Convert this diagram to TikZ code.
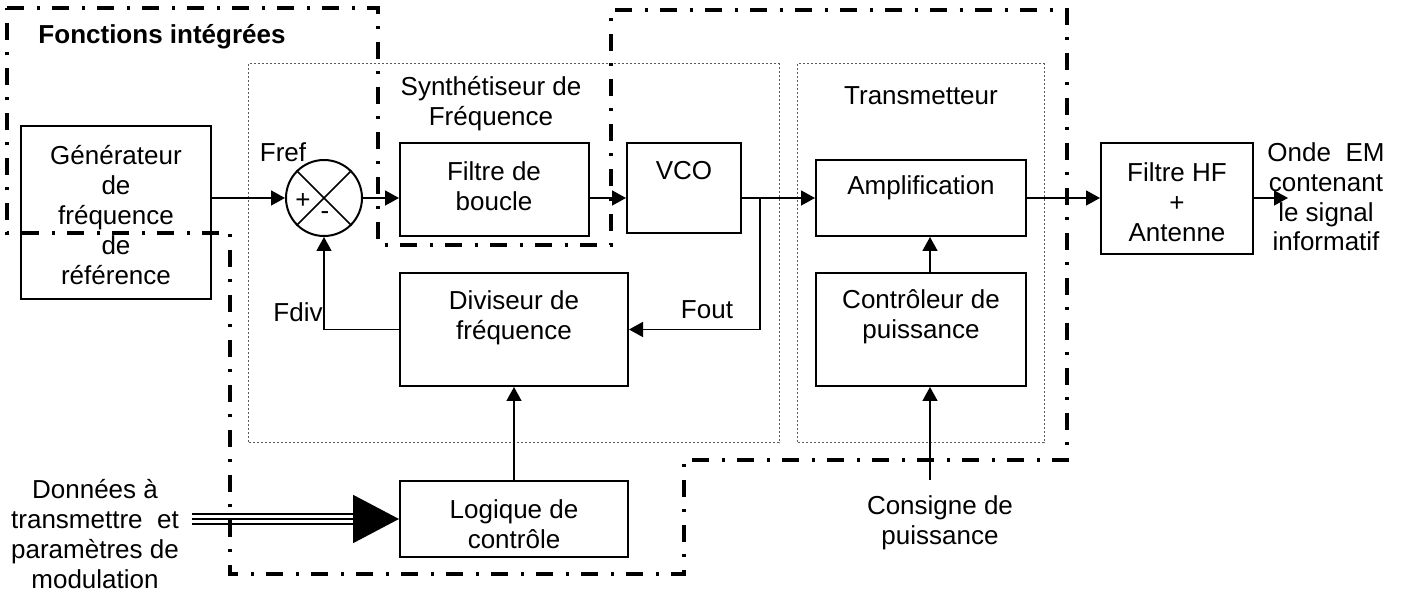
\documentclass[tikz,border=0pt]{standalone}
\usepackage{fontspec}
\setmainfont{Liberation Sans}
\usetikzlibrary{arrows.meta}
\begin{document}
\begin{tikzpicture}[x=0.5pt,y=-0.5pt,
        every node/.style={font=\fontsize{13}{14.9}\selectfont},
        box/.style={draw,line width=1pt,inner sep=0pt},
        txt/.style={align=center,inner sep=0pt},
        wire/.style={line width=0.8pt},
        arr/.style={wire,-{Triangle[length=7pt,width=7.5pt]}},
        frame/.style={line width=0.5pt,black!65,dash pattern=on 1pt off 1pt},
        border/.style={line width=1.7pt,dash pattern=on 8.5pt off 6.25pt on 1.5pt off 6.25pt}]
        \useasboundingbox (0,0) rectangle (1405,592);
        \draw[frame] (248,64) rectangle (779,443);
        \draw[frame] (797,64) rectangle (1044,443);
        \node[box,minimum width=95pt,minimum height=86.5pt] (gen) at (116,212.5) {};
        \node[box,circle,minimum size=38pt] (mix) at (324,198) {};
        \node[box,minimum width=94.5pt,minimum height=46.5pt] (filt) at (494.5,189.5) {};
        \node[box,minimum width=57pt,minimum height=45pt] (vco) at (684,188) {};
        \node[box,minimum width=114pt,minimum height=56.5pt] (div) at (514,329.5) {};
        \node[box,minimum width=114pt,minimum height=38pt] (logic) at (514,519) {};
        \node[box,minimum width=105pt,minimum height=38pt] (ampl) at (921,198) {};
        \node[box,minimum width=105pt,minimum height=56.5pt] (ctrl) at (921,329.5) {};
        \node[box,minimum width=76pt,minimum height=55.5pt] (hf) at (1177,198.5) {};
        \draw[line width=0.8pt] (mix.north west) -- (mix.south east) (mix.north east) -- (mix.south west);
        \node[txt,font=\fontsize{13}{14.9}\selectfont\bfseries] (tfi) at (162,37) {Fonctions intégrées};
        \node[txt] (tgen) at (116,215) {Générateur\\de\\fréquence\\de\\référence};
        \node[txt] (tsyn) at (491,104) {Synthétiseur de\\Fréquence};
        \node[txt] (tfilt) at (494,186) {Filtre de\\boucle};
        \node[txt] (tvco) at (684,171) {VCO};
        \node[txt] (tdiv) at (514,318) {Diviseur de\\fréquence};
        \node[txt] (tlogic) at (514,524) {Logique de\\contrôle};
        \node[txt] (ttr) at (921,96) {Transmetteur};
        \node[txt] (tampl) at (921,188) {Amplification};
        \node[txt] (tctrl) at (921,317) {Contrôleur de\\puissance};
        \node[txt] (thf) at (1177,202) {Filtre HF\\+\\Antenne};
        \node[txt] (tonde) at (1326,197) {Onde\ \ EM\\contenant\\le signal\\informatif};
        \node[txt] (tcons) at (940,523) {Consigne de\\puissance};
        \node[txt] (tdat) at (95,534) {Données à\\transmettre\ \ et\\paramètres de\\modulation};
        \node[txt] (tfref) at (283,152) {Fref};
        \node[txt] (tfdiv) at (298,312) {Fdiv};
        \node[txt] (tfout) at (707,310) {Fout};
        \node[txt] (plus) at (303,201) {+};
        \node[txt] (minus) at (325,216) {-};
        \coordinate (fo) at (760,198);
        \coordinate (cp) at (930,480);
        \coordinate (out) at (1288,198);
        \coordinate (dat) at (192,519);
        \coordinate (tip) at (356,519);
        \draw[arr] (gen.east |- mix.west) -- (mix.west);
        \draw[arr] (mix.east) -- (mix.east -| filt.west);
        \draw[arr] (filt.east |- mix.east) -- (vco.west |- mix.east);
        \draw[arr] (vco.east |- ampl.west) -- (ampl.west);
        \draw[arr] (fo) |- (div.east);
        \draw[arr] (div.west) -| (mix.south);
        \draw[arr] (logic.north) -- (div.south);
        \draw[arr] (cp) -- (cp |- ctrl.south);
        \draw[arr] (cp |- ctrl.north) -- (cp |- ampl.south);
        \draw[arr] (ampl.east) -- (hf.west |- ampl.east);
        \draw[arr] (hf.east |- out) -- (out);
        \foreach \d in {-5,5}
            \draw[line width=1pt] ([yshift=\d*0.5pt]dat) -- ([yshift=\d*0.5pt]tip);
        \draw[line width=1pt,-{Triangle[length=23pt,width=24pt]}] (dat) -- (logic.west);
        \draw[border] (7,8) -- (378,8) -- (378,245) -- (611,245) -- (611,10) -- (1067,10) -- (1067,460)
            -- (684,460) -- (684,574) -- (230,574) -- (230,233) -- (7,233) -- cycle;
    \end{tikzpicture}
\end{document}
